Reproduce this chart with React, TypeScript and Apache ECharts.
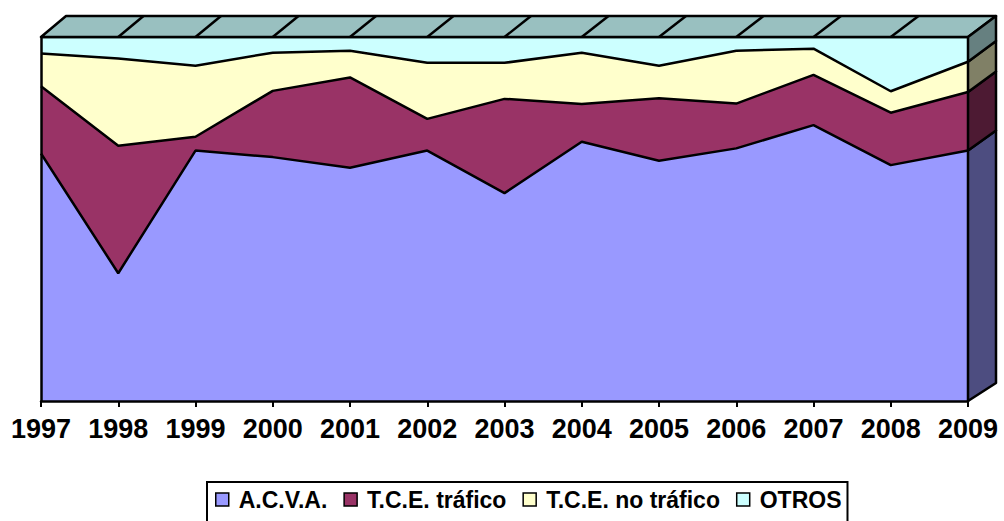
import React, { useEffect, useRef } from "react";
import * as echarts from "echarts";

const years = ["1997", "1998", "1999", "2000", "2001", "2002", "2003", "2004", "2005", "2006", "2007", "2008", "2009"];
const acva = [68.0, 35.1, 68.8, 67.0, 64.1, 68.8, 57.1, 71.2, 66.0, 69.4, 75.8, 64.8, 68.8];
const tceTrafico = [18.5, 35.0, 3.8, 18.2, 24.8, 8.7, 25.9, 10.4, 17.2, 12.3, 13.8, 14.4, 16.1];
const tceNoTrafico = [9.0, 24.0, 19.5, 10.5, 7.3, 15.4, 9.9, 14.1, 8.9, 14.5, 7.2, 5.9, 8.3];
const otros = [4.5, 5.9, 7.9, 4.3, 3.8, 7.1, 7.1, 4.3, 7.9, 3.8, 3.2, 14.9, 6.8];

const seriesNames = ["A.C.V.A.", "T.C.E. tráfico", "T.C.E. no tráfico", "OTROS"];
const seriesData = [acva, tceTrafico, tceNoTrafico, otros];
const frontColors = ["#9999FF", "#993366", "#FFFFCC", "#CCFFFF"];
const sideColors = ["#4D4D80", "#4D1A33", "#808066", "#668080"];
const topColor = "#99C0C0";

const FONT = "'Liberation Sans', Arial, sans-serif";

export default function App() {
  const ref = useRef<HTMLDivElement>(null);

  useEffect(() => {
    if (!ref.current) return;
    const chart = echarts.init(ref.current, null, { renderer: "svg" });
    const n = years.length;

    const renderItem = (params: any, api: any) => {
      const p = (i: number, v: number) => api.coord([i, v]);
      const x0 = p(0, 100)[0];
      const x1 = p(n - 1, 100)[0];
      const yTop = p(0, 100)[1];
      const yBot = p(0, 0)[1];
      const sh = (pt: number[]) => [
        pt[0] + 25 + (3 * (pt[0] - x0)) / (x1 - x0),
        pt[1] - 21 + (3 * (pt[1] - yTop)) / (yBot - yTop),
      ];
      const children: any[] = [];
      const tl = p(0, 100);
      const tr = p(n - 1, 100);
      children.push({
        type: "polygon",
        shape: { points: [tl, tr, sh(tr), sh(tl)] },
        style: { fill: topColor, stroke: "#000", lineWidth: 2.5, lineJoin: "round" },
      });
      for (let i = 1; i < n - 1; i++) {
        const a = p(i, 100);
        const b = sh(a);
        children.push({
          type: "line",
          shape: { x1: a[0], y1: a[1], x2: b[0], y2: b[1] },
          style: { stroke: "#000", lineWidth: 2.5 },
        });
      }
      let lo = 0;
      for (let k = 0; k < seriesData.length; k++) {
        const hi = lo + seriesData[k][n - 1];
        const a = p(n - 1, lo);
        const b = p(n - 1, hi);
        children.push({
          type: "polygon",
          shape: { points: [a, b, sh(b), sh(a)] },
          style: { fill: sideColors[k], stroke: "#000", lineWidth: 2.5, lineJoin: "round" },
        });
        lo = hi;
      }
      return { type: "group", children };
    };

    const areaSeries = seriesNames.map((name, k) => ({
      name,
      type: "line",
      stack: "total",
      data: seriesData[k],
      symbol: "none",
      showSymbol: false,
      itemStyle: { color: frontColors[k] },
      lineStyle: { color: "#000", width: 2.5 },
      areaStyle: { color: frontColors[k], opacity: 1 },
      z: 2,
    }));

    chart.setOption({
      animation: false,
      backgroundColor: "#ffffff",
      grid: { left: 41, right: 36, top: 37, bottom: 120, containLabel: false },
      xAxis: {
        type: "category",
        data: years,
        boundaryGap: false,
        axisLine: { show: true, lineStyle: { color: "#000", width: 2.5 } },
        axisTick: { show: true, length: 6, interval: 0, lineStyle: { color: "#000", width: 2 } },
        axisLabel: {
          color: "#000",
          fontSize: 27,
          fontWeight: "bold",
          fontFamily: FONT,
          margin: 14,
          interval: 0,
          hideOverlap: false,
        },
        splitLine: { show: false },
        z: 10,
      },
      yAxis: {
        type: "value",
        min: 0,
        max: 100,
        axisLine: { show: true, lineStyle: { color: "#000", width: 2.5 } },
        axisTick: { show: false },
        axisLabel: { show: false },
        splitLine: { show: false },
        z: 10,
      },
      legend: {
        left: 207,
        top: 482,
        orient: "horizontal",
        icon: "rect",
        itemWidth: 13,
        itemHeight: 13,
        itemGap: 16,
        padding: [6, 6, 20, 8],
        borderColor: "#000",
        borderWidth: 2,
        textStyle: {
          color: "#000",
          fontSize: 23,
          fontWeight: "bold",
          fontFamily: FONT,
          padding: [0, 0, 0, 5],
        },
        data: seriesNames.map((name, k) => ({
          name,
          icon: "rect",
          itemStyle: { color: frontColors[k], borderColor: "#000", borderWidth: 1.5 },
        })),
      },
      series: [
        ...areaSeries,
        {
          name: "3d",
          type: "custom",
          coordinateSystem: "cartesian2d",
          clip: false,
          silent: true,
          z: 5,
          data: [[0, 0]],
          renderItem,
        },
      ],
    });

    return () => {
      chart.dispose();
    };
  }, []);

  return (
    <div
      ref={ref}
      style={{ position: "fixed", left: 0, top: 0, width: 1004, height: 521, background: "#fff" }}
    />
  );
}
